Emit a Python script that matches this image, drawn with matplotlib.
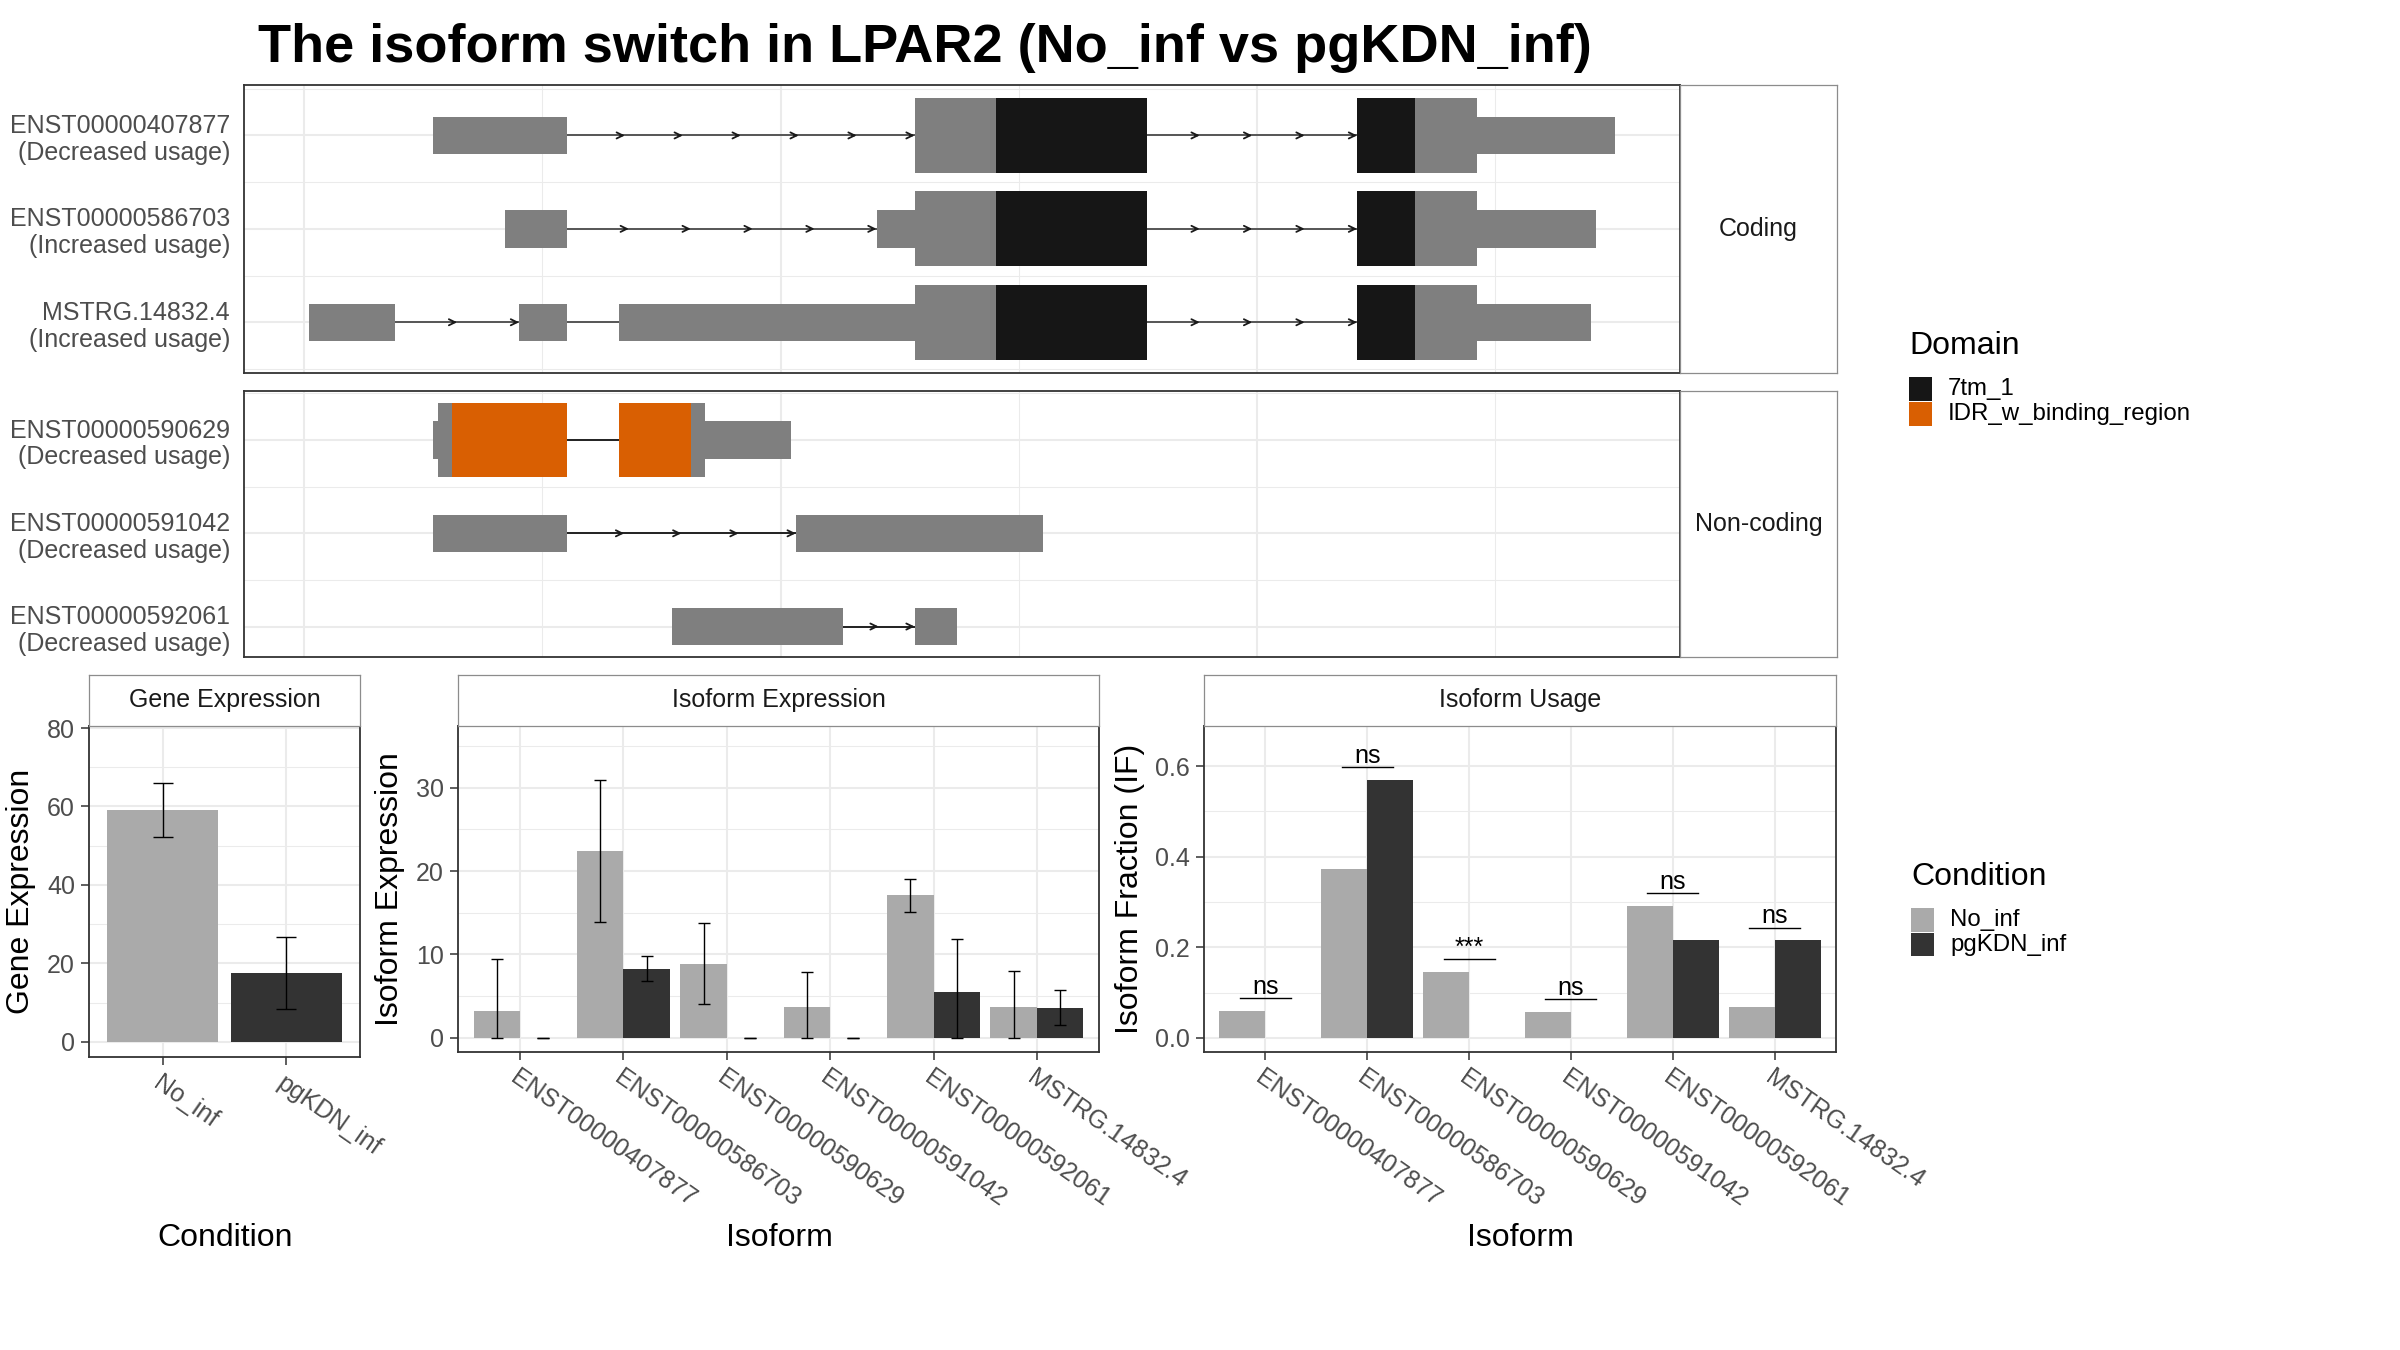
import matplotlib
matplotlib.use('Agg')
import matplotlib.pyplot as plt
from matplotlib.patches import Rectangle
from matplotlib.ticker import MultipleLocator, FixedLocator

plt.rcParams['font.family'] = ['Liberation Sans', 'DejaVu Sans']

# ------------------------------------------------------------------ data
title = "The isoform switch in LPAR2 (No_inf vs pgKDN_inf)"

conditions = ["No_inf", "pgKDN_inf"]
cond_colors = ["#AAAAAA", "#333333"]

domain_names = ["7tm_1", "IDR_w_binding_region"]
domain_colors = ["#161616", "#D95F02"]

isoforms = ["ENST00000407877", "ENST00000586703", "ENST00000590629",
            "ENST00000591042", "ENST00000592061", "MSTRG.14832.4"]

gene_expr = [59.2, 17.5]
gene_err = [6.9, 9.2]

iso_expr_noinf = [3.2, 22.4, 8.9, 3.7, 17.1, 3.7]
iso_err_noinf = [6.3, 8.5, 4.85, 4.25, 2.0, 4.35]
iso_expr_pg = [0.0, 8.3, 0.0, 0.0, 5.5, 3.6]
iso_err_pg = [0.0, 1.5, 0.0, 0.0, 6.3, 2.1]

if_noinf = [0.060, 0.372, 0.145, 0.058, 0.292, 0.069]
if_pg = [0.0, 0.569, 0.0, 0.0, 0.217, 0.215]
if_sig = ["ns", "ns", "***", "ns", "ns", "ns"]

# transcript structures (x in genomic plot units)
coding_ids = ["ENST00000407877", "ENST00000586703", "MSTRG.14832.4"]
coding_usage = ["Decreased usage", "Increased usage", "Increased usage"]
noncoding_ids = ["ENST00000590629", "ENST00000591042", "ENST00000592061"]
noncoding_usage = ["Decreased usage", "Decreased usage", "Decreased usage"]

exons_407877 = [(0.541, 1.103), (2.563, 3.540), (4.421, 5.503)]
cds_407877 = [(2.563, 3.540), (4.421, 4.924)]
dom_407877 = [(2.903, 3.540, 0), (4.421, 4.664, 0)]

exons_586703 = [(0.843, 1.103), (2.403, 3.540), (4.421, 5.424)]
cds_586703 = [(2.563, 3.540), (4.421, 4.924)]
dom_586703 = [(2.903, 3.540, 0), (4.421, 4.664, 0)]

exons_mstrg = [(0.021, 0.382), (0.902, 1.103), (1.321, 3.540), (4.421, 5.403)]
cds_mstrg = [(2.563, 3.540), (4.421, 4.924)]
dom_mstrg = [(2.903, 3.540, 0), (4.421, 4.664, 0)]

exons_590629 = [(0.541, 1.103), (1.321, 2.043)]
cds_590629 = [(0.562, 1.103), (1.321, 1.682)]
dom_590629 = [(0.621, 1.103, 1), (1.321, 1.623, 1)]

exons_591042 = [(0.541, 1.103), (2.064, 3.104)]
exons_592061 = [(1.544, 2.261), (2.563, 2.743)]

coding_tx = [(exons_407877, cds_407877, dom_407877),
             (exons_586703, cds_586703, dom_586703),
             (exons_mstrg, cds_mstrg, dom_mstrg)]
noncoding_tx = [(exons_590629, cds_590629, dom_590629),
                (exons_591042, [], []),
                (exons_592061, [], [])]

# ------------------------------------------------------------------ layout helpers
W, H = 2400, 1350
fig = plt.figure(figsize=(24, 13.5), dpi=100)
fig.patch.set_facecolor('white')


def px_axes(l, t, r, b):
    return fig.add_axes([l / W, 1 - b / H, (r - l) / W, (b - t) / H])


GRID = '#EBEBEB'
BORDER = '#333333'
STRIP_BORDER = '#8C8C8C'
TXT_GREY = '#4D4D4D'


def style_panel(ax):
    for s in ax.spines.values():
        s.set_color(BORDER)
        s.set_linewidth(1.3)
    ax.set_axisbelow(True)
    ax.grid(which='major', color=GRID, lw=1.5)
    ax.grid(which='minor', color=GRID, lw=0.75)


def strip(l, t, r, b, text, rot=0):
    sa = px_axes(l, t, r, b)
    sa.set_xticks([])
    sa.set_yticks([])
    sa.set_facecolor('white')
    for s in sa.spines.values():
        s.set_color(STRIP_BORDER)
        s.set_linewidth(0.9)
    sa.text(0.5, 0.5, text, transform=sa.transAxes, ha='center', va='center',
            fontsize=18, color='#1A1A1A', rotation=rot)
    return sa


# ------------------------------------------------------------------ transcripts
all_ex = [e for tx in coding_tx + noncoding_tx for e in tx[0]]
xmin = min(s for s, e in all_ex)
xmax = max(e for s, e in all_ex)
xpad = 0.05 * (xmax - xmin)
XLIM = (xmin - xpad, xmax + xpad)


def draw_tx(ax, row, exons, cds, doms, line_color):
    for (s0, e0), (s1, e1) in zip(exons[:-1], exons[1:]):
        a, b = e0, s1
        ax.plot([a, b], [row, row], color=line_color, lw=1.3, zorder=2,
                solid_capstyle='butt')
        L = b - a
        if L >= 0.25:
            n = max(2, int(round(L / 0.25)))
            for k in range(1, n + 1):
                xk = a + k * L / n
                ax.annotate('', xy=(xk, row), xytext=(xk - 0.02, row),
                            arrowprops=dict(arrowstyle='->,head_length=0.45,head_width=0.22',
                                            color='#1A1A1A', lw=1.3, shrinkA=0, shrinkB=0,
                                            mutation_scale=10), zorder=3)
    for s, e in exons:
        ax.add_patch(Rectangle((s, row - 0.2), e - s, 0.4, fc='#7F7F7F', ec='none', zorder=4))
    for s, e in cds:
        ax.add_patch(Rectangle((s, row - 0.4), e - s, 0.8, fc='#7F7F7F', ec='none', zorder=4))
    for s, e, d in doms:
        ax.add_patch(Rectangle((s, row - 0.4), e - s, 0.8, fc=domain_colors[d], ec='none', zorder=5))


def tx_panel(l, t, r, b, txs, ids, usage, strip_text, line_color):
    ax = px_axes(l, t, r, b)
    n = len(txs)
    rows = list(range(n, 0, -1))
    lo, hi = [], []
    for row, (ex, cds, doms) in zip(rows, txs):
        h = 0.4 if cds else 0.2
        lo.append(row - h)
        hi.append(row + h)
        draw_tx(ax, row, ex, cds, doms, line_color)
    ymin, ymax = min(lo), max(hi)
    ypad = 0.05 * (ymax - ymin)
    ax.set_ylim(ymin - ypad, ymax + ypad)
    ax.set_xlim(*XLIM)
    ax.xaxis.set_major_locator(MultipleLocator(2))
    ax.xaxis.set_minor_locator(FixedLocator([1, 3, 5]))
    ax.set_yticks(rows)
    ax.set_yticklabels([f"{i}\n({u})" for i, u in zip(ids, usage)],
                       fontsize=18, color=TXT_GREY, linespacing=1.15)
    ax.yaxis.set_minor_locator(FixedLocator([r + 0.5 for r in range(0, n + 1)]))
    ax.tick_params(axis='both', which='both', length=0)
    ax.tick_params(axis='y', pad=10)
    ax.tick_params(axis='x', labelbottom=False)
    style_panel(ax)
    strip(r, t, 1837, b, strip_text)
    return ax


tx_panel(244, 85, 1680, 372.7, coding_tx, coding_ids, coding_usage, "Coding", '#4A4A4A')
tx_panel(244, 390.7, 1680, 657.3, noncoding_tx, noncoding_ids, noncoding_usage, "Non-coding", '#111111')

fig.text(258 / W, 1 - 62 / H, title, fontsize=39, fontweight='bold', ha='left',
         va='baseline', color='black')

# ------------------------------------------------------------------ bar panels


def bar_panel_common(ax, xt_labels):
    ax.tick_params(axis='both', which='major', length=6, width=1.1, color=BORDER,
                   labelsize=18, labelcolor=TXT_GREY, pad=4)
    ax.tick_params(axis='both', which='minor', length=0)
    ax.set_xticks(range(1, len(xt_labels) + 1))
    ax.set_xticklabels(xt_labels, rotation=-35, ha='left', va='top',
                       rotation_mode='anchor')
    ax.set_xlim(0.4, len(xt_labels) + 0.6)
    style_panel(ax)


# Gene expression
axg = px_axes(89, 726, 360, 1057)
xg = [1, 2]
axg.bar(xg, gene_expr, width=0.9, color=cond_colors, zorder=2)
axg.errorbar(xg, gene_expr,
             yerr=[[min(e, m) for m, e in zip(gene_expr, gene_err)], gene_err],
             fmt='none', ecolor='black', elinewidth=1.0, capsize=7.5, capthick=1.0, zorder=3)
Mg = 1.16 * max(m + e for m, e in zip(gene_expr, gene_err))
axg.set_ylim(-0.05 * Mg, 1.05 * Mg)
axg.yaxis.set_major_locator(MultipleLocator(20))
axg.yaxis.set_minor_locator(MultipleLocator(10))
bar_panel_common(axg, conditions)
strip(89, 675, 360, 726, "Gene Expression")

# Isoform expression
axe = px_axes(458, 726, 1099, 1052)
xi = list(range(1, len(isoforms) + 1))
x1 = [x - 0.225 for x in xi]
x2 = [x + 0.225 for x in xi]
axe.bar(x1, iso_expr_noinf, width=0.45, color=cond_colors[0], zorder=2)
axe.bar(x2, iso_expr_pg, width=0.45, color=cond_colors[1], zorder=2)
for xs, m_, e_ in ((x1, iso_expr_noinf, iso_err_noinf), (x2, iso_expr_pg, iso_err_pg)):
    axe.errorbar(xs, m_, yerr=[[min(e, m) for m, e in zip(m_, e_)], e_],
                 fmt='none', ecolor='black', elinewidth=1.0, capsize=4, capthick=1.0, zorder=3)
Me = 1.1 * max(max(m + e for m, e in zip(iso_expr_noinf, iso_err_noinf)),
               max(m + e for m, e in zip(iso_expr_pg, iso_err_pg)))
axe.set_ylim(-0.05 * Me, 1.1 * Me)
axe.yaxis.set_major_locator(MultipleLocator(10))
axe.yaxis.set_minor_locator(MultipleLocator(5))
bar_panel_common(axe, isoforms)
strip(458, 675, 1099, 726, "Isoform Expression")

# Isoform usage
axu = px_axes(1204, 726, 1836, 1052)
axu.bar(x1, if_noinf, width=0.45, color=cond_colors[0], zorder=2)
axu.bar(x2, if_pg, width=0.45, color=cond_colors[1], zorder=2)
Mu = 1.1 * max(max(if_noinf), max(if_pg))
offset = 0.05 * max(max(if_noinf), max(if_pg))
for x, a, b, s in zip(xi, if_noinf, if_pg, if_sig):
    yl = max(a, b) + offset
    axu.plot([x - 0.25, x + 0.25], [yl, yl], color='black', lw=1.0, zorder=3)
    axu.annotate(s, xy=(x, yl), xytext=(0, 3), textcoords='offset points',
                 ha='center', va='baseline', fontsize=18, color='black')
axu.set_ylim(-0.05 * Mu, 1.1 * Mu)
axu.yaxis.set_major_locator(MultipleLocator(0.2))
axu.yaxis.set_minor_locator(MultipleLocator(0.1))
axu.yaxis.set_major_formatter(matplotlib.ticker.FormatStrFormatter('%.1f'))
bar_panel_common(axu, isoforms)
strip(1204, 675, 1836, 726, "Isoform Usage")

# axis titles
fig.text(21.5 / W, 1 - 891 / H, "Gene Expression", rotation=90, fontsize=23,
         ha='center', va='center')
fig.text(390 / W, 1 - 889 / H, "Isoform Expression", rotation=90, fontsize=23,
         ha='center', va='center')
fig.text(1130 / W, 1 - 889 / H, "Isoform Fraction (IF)", rotation=90, fontsize=23,
         ha='center', va='center')
fig.text(225 / W, 1 - 1238 / H, "Condition", fontsize=23, ha='center', va='center')
fig.text(779 / W, 1 - 1238 / H, "Isoform", fontsize=23, ha='center', va='center')
fig.text(1520 / W, 1 - 1238 / H, "Isoform", fontsize=23, ha='center', va='center')

# ------------------------------------------------------------------ legends


def legend(x, title_y, key_top, names, colors, label_x):
    fig.text(x / W, 1 - title_y / H, names[0], fontsize=23, ha='left', va='center')
    for i, (nm, c) in enumerate(zip(names[1], colors)):
        t = key_top + i * 24.5
        fig.add_artist(Rectangle((x / W, 1 - (t + 23.5) / H), 23 / W, 23.5 / H,
                                 transform=fig.transFigure, fc=c, ec='none'))
        fig.text(label_x / W, 1 - (t + 12) / H, nm, fontsize=17.3, ha='left',
                 va='center')


legend(1909, 346, 377.5, ("Domain", domain_names), domain_colors, 1948)
legend(1911, 877, 908, ("Condition", conditions), cond_colors, 1950)

fig.savefig('out.png', dpi=100, facecolor='white')
